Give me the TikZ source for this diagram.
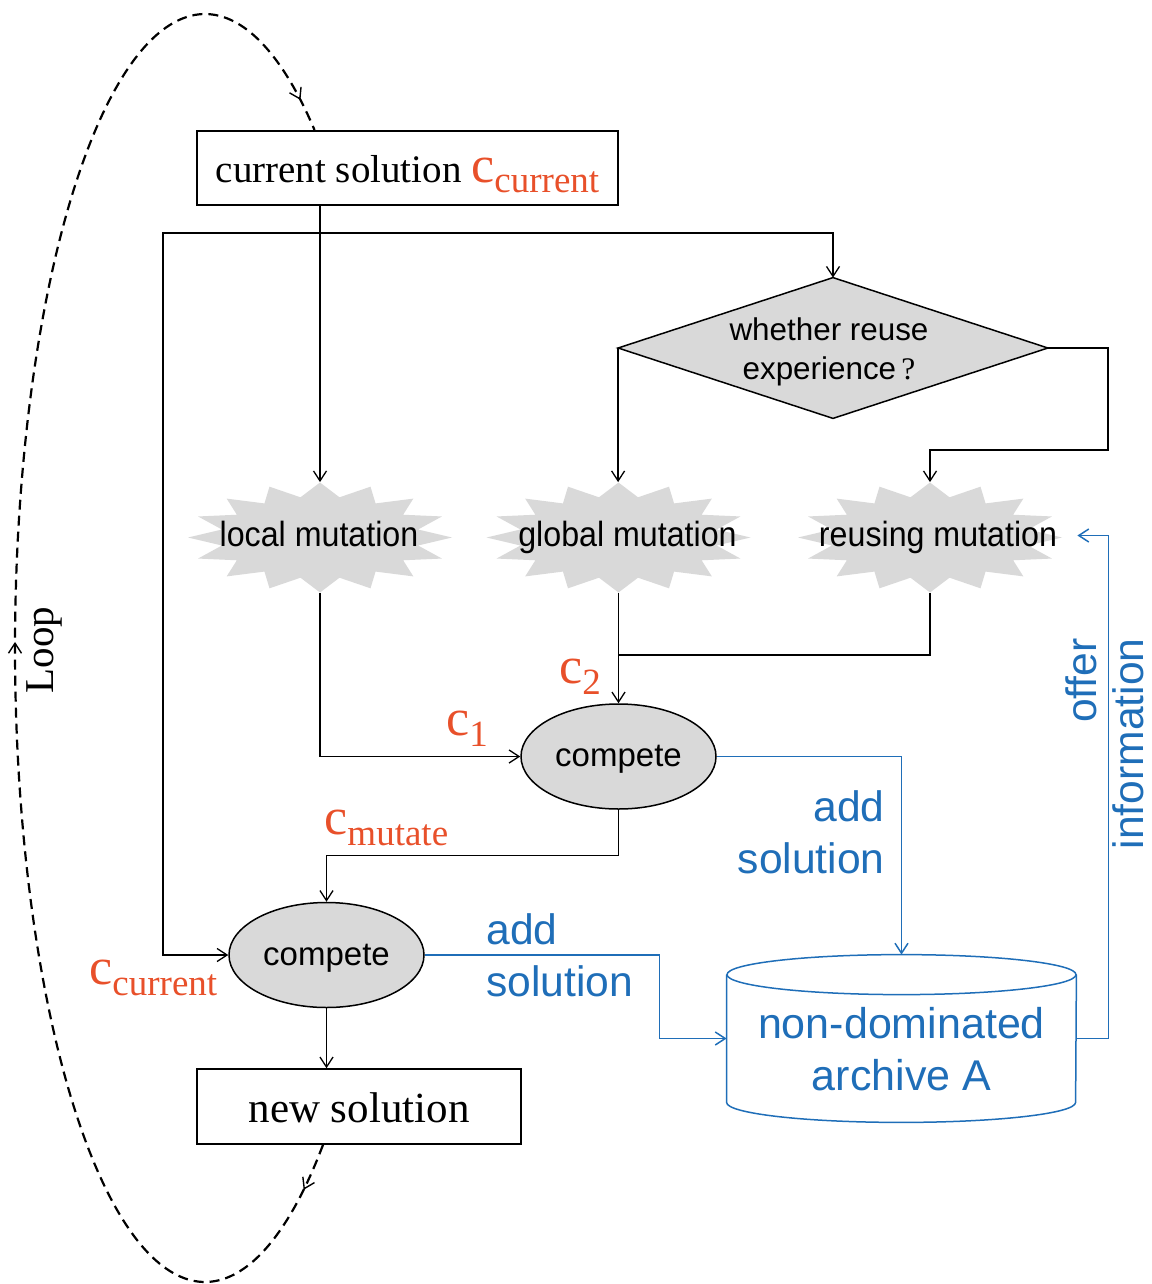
\documentclass[tikz,border=0pt]{standalone}
\usepackage{fontspec}
\setmainfont{Liberation Serif}
\setsansfont{Liberation Sans}
\newfontfamily\starfont[FakeStretch=0.92]{Liberation Sans}
\usetikzlibrary{arrows.meta,decorations.markings,backgrounds,calc,shapes.geometric}
\definecolor{accentred}{HTML}{E8502A}
\definecolor{flowblue}{HTML}{1F6EB8}
\definecolor{shapegray}{HTML}{D9D9D9}
\newcommand{\fsz}[2]{\fontsize{#1}{#2}\selectfont}
% red solution symbol c with a subscript
\newcommand{\solc}[1]{{\color{accentred}{\fsz{26}{26}c}\raisebox{-5.5pt}{\fsz{18.5}{18.5}#1}}}
\begin{document}
\begin{tikzpicture}[x=0.5pt,y=-0.5pt,
  line/.style={line width=0.65pt},
  arr/.style={line, -{Straight Barb[length=5pt,width=6.5pt]}},
  barr/.style={arr, draw=flowblue, line width=0.75pt},
  framebox/.style={draw, line width=0.75pt, inner sep=0pt, text depth=0pt},
  starnode/.style={inner sep=0pt, minimum width=132pt, minimum height=55pt},
  startext/.style={inner sep=0pt, anchor=base, font=\starfont\fsz{17.5}{17.5}},
  cmpnode/.style={ellipse, draw, line width=0.75pt, fill=shapegray, inner sep=0pt,
    minimum width=97.5pt, minimum height=52.5pt, text height=10pt, text depth=0pt,
    font=\sffamily\fsz{16.5}{16.5}},
  bluetext/.style={text=flowblue, inner sep=0pt},
  redlabel/.style={anchor=base west, inner sep=0pt},
  loopline/.style={line width=1.1pt, dash pattern=on 5pt off 3pt},
]
\useasboundingbox (0,0) rectangle (1151,1284);

% boxes
\node[framebox, minimum width=210.5pt, minimum height=37pt, text height=14pt,
  font=\rmfamily\fsz{19.5}{19.5}] (cur) at (407.5,168) {current solution \solc{current}};
\node[framebox, minimum width=162pt, minimum height=37.5pt, text height=16pt,
  font=\rmfamily\fsz{21.5}{21.5}] (newsol) at (359,1106.5) {new solution};

% decision diamond
\node[inner sep=0pt, minimum width=214.5pt, minimum height=70pt] (dia) at (833,348) {};
\begin{scope}[on background layer]
  \filldraw[fill=shapegray, draw=black, line width=0.75pt]
    (dia.north) -- (dia.east) -- (dia.south) -- (dia.west) -- cycle;
\end{scope}
\node[inner sep=0pt, align=center, font=\sffamily\fsz{15.7}{19.5}] (q) at (829,351.5)
  {whether reuse\\experience{\rmfamily\,?}};

% mutation operators
\node[starnode] (loc) at (320,537.5) {};
\node[starnode] (glob) at (618.5,537.5) {};
\node[starnode] (reu) at (930,537.5) {};
\begin{scope}[on background layer]
  \foreach \s in {loc,glob,reu}{
    \fill[shapegray, shift={(\s.center)}]
      plot[samples at={0,...,31}]
      ({cos(\x*11.25)*(mod(\x,2)==0 ? 132 : 100)},{sin(\x*11.25)*(mod(\x,2)==0 ? 55 : 41)}) -- cycle;
  }
\end{scope}
\node[startext] (loct) at (319,546) {local mutation};
\node[startext] (globt) at (627.5,546) {global mutation};
\node[startext] (reut) at (938,546) {reusing mutation};

% competitions
\node[cmpnode] (cmp1) at (618.5,756.5) {compete};
\node[cmpnode] (cmp2) at (326.5,955) {compete};

% archive cylinder
\node[inner sep=0pt, minimum width=174.5pt, minimum height=83.5pt] (arch) at (901.5,1038.5) {};
\draw[flowblue, line width=0.75pt]
  ($(arch.north west)+(0,20)$) -- ($(arch.south west)+(0,-20)$)
  arc[start angle=180, end angle=360, x radius=87.25pt, y radius=10pt]
  -- ($(arch.north east)+(0,20)$);
\draw[flowblue, line width=0.75pt] ($(arch.north)+(0,20)$) ellipse[x radius=87.25pt, y radius=10pt];
\node[bluetext, align=center, font=\sffamily\fsz{21.5}{26}] (archt) at (901.5,1049)
  {non-dominated\\archive A};

% black flow
\coordinate (j1) at (loc.north |- 0,233);
\coordinate (j2) at (glob.south |- 0,655);
\draw[arr] (cur.south -| loc.north) -- (loc.north);
\draw[arr] (j1) -- (163,233) |- (cmp2.west);
\draw[arr] (j1) -| (dia.north);
\draw[arr] (dia.west) -- (dia.west |- glob.north);
\draw[arr] (dia.east) -- ++(60,0) -- ++(0,102) -| (reu.north);
\draw[arr] (loc.south) |- (cmp1.west);
\draw[arr] (glob.south) -- (cmp1.north);
\draw[line] (reu.south) |- (j2);
\draw[arr] (cmp1.south) -- ++(0,46) -| (cmp2.north);
\draw[arr] (cmp2.south) -- (cmp2.south |- newsol.north);

% blue flow
\coordinate (infoin) at ($(reu.east)+(15,-2)$);
\draw[barr] (cmp1.east) -| (arch.north);
\draw[barr] (cmp2.east) -- ++(234.5,0) |- (arch.west);
\draw[barr] (arch.east) -- ++(32,0) |- (infoin);

% labels
\node[bluetext, anchor=east, align=right, font=\sffamily\fsz{21.3}{26}] (add1) at (885,832) {add\\solution};
\node[bluetext, anchor=west, align=left, font=\sffamily\fsz{21.3}{26}] (add2) at (486,955) {add\\solution};
\node[bluetext, rotate=90, anchor=east, align=right, font=\sffamily\fsz{21.3}{23.5}] (offer) at (1105,638) {offer\\information};
\node[redlabel] (lc1) at (446,735) {\solc{1}};
\node[redlabel] (lc2) at (559,683) {\solc{2}};
\node[redlabel] (lcm) at (324,834) {\solc{mutate}};
\node[redlabel] (lcc) at (89,984) {\solc{current}};

% iteration loop
\node[rotate=90, anchor=base, inner sep=0pt, font=\rmfamily\fsz{20.5}{20.5}] (looplabel) at (53,650) {Loop};
\draw[loopline, postaction={decorate}, decoration={markings,
    mark=at position 0.028 with {\arrow{Straight Barb[length=5pt,width=6.5pt,line width=0.7pt]}},
    mark=at position 0.51 with {\arrow{Straight Barb[length=5pt,width=6.5pt,line width=0.7pt]}},
    mark=at position 0.981 with {\arrow{Straight Barb[length=5pt,width=6.5pt,line width=0.7pt]}}}]
  plot[smooth, domain=51.6:305.2, samples=120] ({205+190*cos(\x)},{648+634*sin(\x)});
\end{tikzpicture}
\end{document}
